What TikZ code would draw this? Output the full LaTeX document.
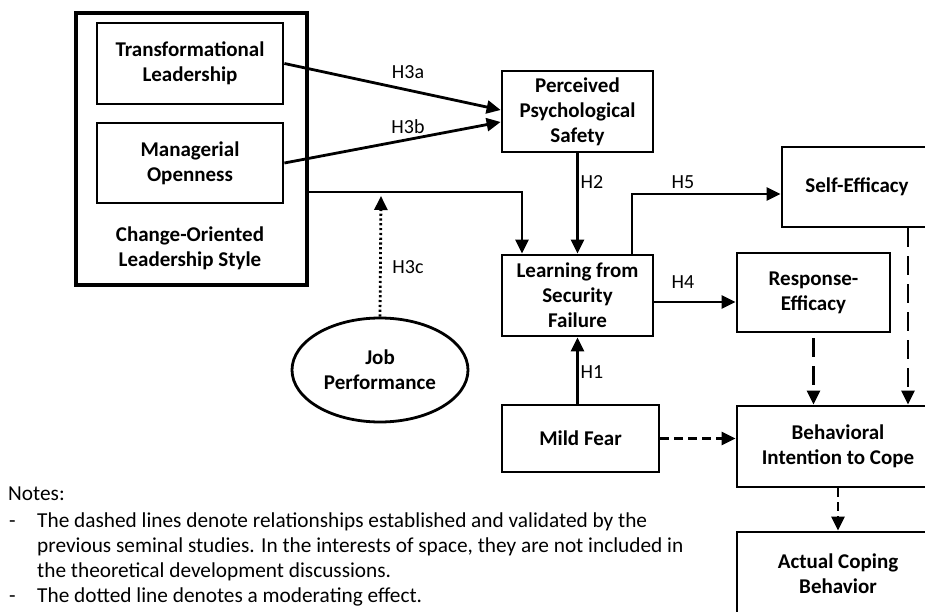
\documentclass[tikz,border=0pt]{standalone}
\usepackage{fontspec}
\setmainfont{Carlito}
\usetikzlibrary{arrows.meta,shapes.geometric,calc}
\begin{document}
\begin{tikzpicture}[x=1pt,y=-1pt,
  box/.style={draw,line width=2.8pt,align=center,inner sep=0pt,font=\fontsize{21}{25}\selectfont\bfseries},
  lbl/.style={font=\fontsize{20}{24}\selectfont,inner sep=0pt},
  note/.style={font=\fontsize{21.3}{24}\selectfont,inner sep=0pt,anchor=base west},
  arr/.style={line width=2.8pt,-{Triangle[length=14pt,width=13pt]}},
  dasharr/.style={arr,dash pattern=on 9pt off 5pt},
  longdash/.style={arr,dash pattern=on 19pt off 9pt},
  dotarr/.style={arr,dash pattern=on 2.2pt off 2.6pt}]
\useasboundingbox (0,0) rectangle (925,612);
\fill[white] (0,0) rectangle (925,612);
% outer group
\node[draw,line width=4pt,minimum width=231pt,minimum height=272pt,inner sep=0pt] (O) at (191.5,149) {};
\node[box,minimum width=186pt,minimum height=81pt] (T) at (190,63.5) {Transformational\\Leadership};
\node[box,minimum width=186pt,minimum height=80pt] (M) at (190,163) {Managerial\\Openness};
\node[box,draw=none] (C) at (190,248) {Change-Oriented\\Leadership Style};
% main boxes
\node[box,minimum width=151pt,minimum height=81pt] (P) at (577.5,111.5) {Perceived\\Psychological\\Safety};
\node[box,minimum width=151pt,minimum height=81pt] (L) at (577.5,295.5) {Learning from\\Security\\Failure};
\node[box,minimum width=150pt,minimum height=80pt] (S) at (857,187) {Self-Efficacy};
\node[box,minimum width=153pt,minimum height=79pt] (R) at (813.5,292.5) {Response-\\Efficacy};
\node[box,minimum width=157pt,minimum height=67pt] (F) at (580.5,438.5) {Mild Fear};
\node[box,minimum width=202pt,minimum height=81pt] (B) at (838,446.5) {Behavioral\\Intention to Cope};
\node[box,minimum width=202pt,minimum height=84pt] (A) at (838,574) {Actual Coping\\Behavior};
\node[draw,ellipse,line width=2.8pt,minimum width=176pt,minimum height=104pt,inner sep=0pt,align=center,font=\fontsize{21}{25}\selectfont\bfseries] (J) at (380,370) {Job\\Performance};
% corner coordinates
\coordinate (mid) at (522,192);
\coordinate (up5) at (632,194);
\coordinate (dt) at (381,196);
% connectors
\draw[arr] (T.east) -- ([yshift=1.5pt]P.west);
\draw[arr] (M.east) -- ([yshift=-10.5pt]P.west);
\draw[arr] (O.east |- mid) -- (mid) -- (mid |- L.north);
\draw[dotarr] (J.north) -- (dt);
\draw[arr] (P.south) -- (L.north);
\draw[arr] (up5 |- L.north) -- (up5) -- (up5 -| S.west);
\draw[arr] ([yshift=-6.5pt]L.east) -- ([yshift=-6.5pt]L.east -| R.west);
\draw[arr] (L.south |- F.north) -- (L.south);
\draw[longdash] ([yshift=-5pt]R.south) -- (R.south |- B.north);
\draw[longdash] ([xshift=51pt]S.south) -- ([xshift=51pt]S.south |- B.north);
\draw[dasharr] (F.east) -- (F.east -| B.west);
\draw[dasharr] (B.south) -- (A.north);
% labels
\node[lbl] (h3a) at (408,72) {H3a};
\node[lbl] (h3b) at (408,127) {H3b};
\node[lbl] (h3c) at (408,267) {H3c};
\node[lbl] (h2) at (592,182) {H2};
\node[lbl] (h5) at (683,182) {H5};
\node[lbl] (h4) at (683,282) {H4};
\node[lbl] (h1) at (592,372) {H1};
% notes
\node[note] (n0) at (8,500) {Notes:};
\node[note] (d1) at (9,527) {-};
\node[note] (n1) at (37,527) {The dashed lines denote relationships established and validated by the};
\node[note] (n2) at (37,552) {previous seminal studies. In the interests of space, they are not included in};
\node[note] (n3) at (37,577) {the theoretical development discussions.};
\node[note] (d2) at (9,602) {-};
\node[note] (n4) at (37,602) {The dotted line denotes a moderating effect.};
\end{tikzpicture}
\end{document}
